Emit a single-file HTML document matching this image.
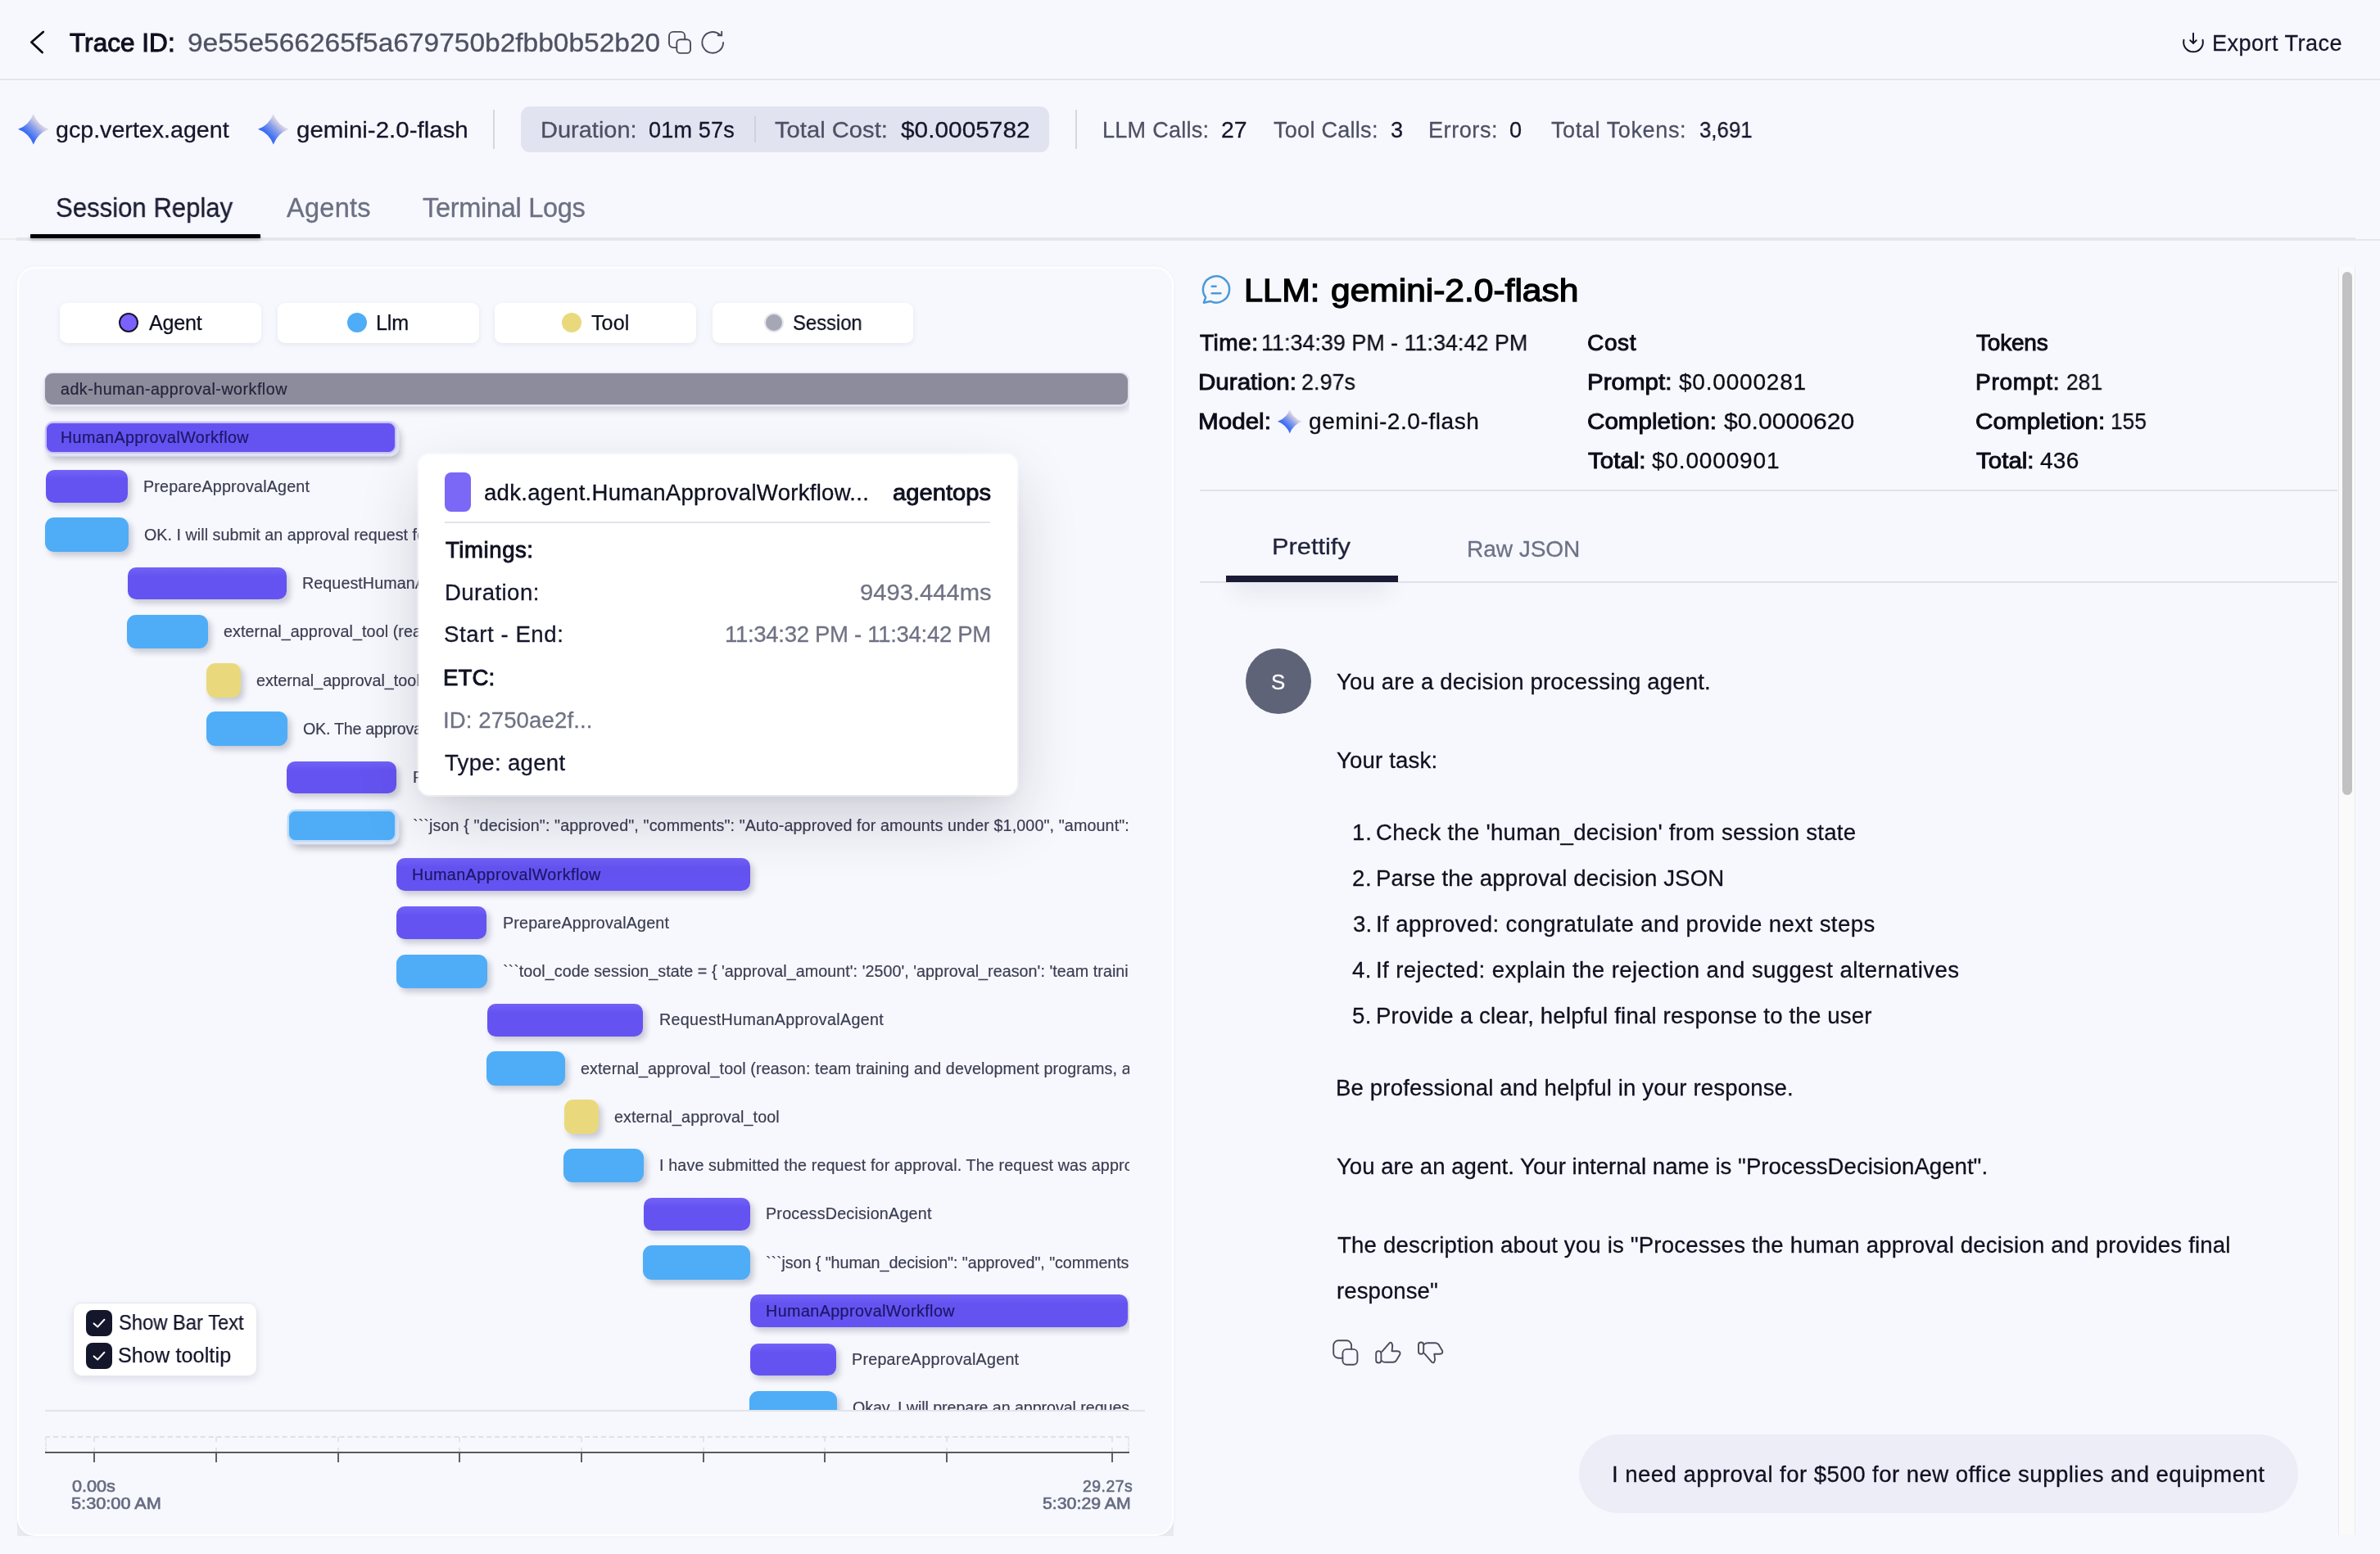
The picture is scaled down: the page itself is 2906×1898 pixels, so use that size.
<!DOCTYPE html>
<html><head><meta charset="utf-8"><title>Trace</title>
<style>
html,body{margin:0;padding:0;}
body{width:2906px;height:1898px;background:#f7f8fd;overflow:hidden;position:relative;font-family:"Liberation Sans",sans-serif;}
#root,.layer{position:absolute;left:0;top:0;}
#root{width:2906px;height:1898px;overflow:hidden;}
.layer div,.layer svg,.layer span{position:absolute;}
.layer div{box-sizing:border-box;}
.t{white-space:pre;line-height:1;transform-origin:0 50%;will-change:transform;}
</style></head><body><div id="root">
<div class="layer" style="width:2906px;height:1898px;">
<svg style="left:30px;top:30px;overflow:visible" width="40" height="40" viewBox="30 30 40 40" fill="none" stroke="#0c0d18" stroke-width="2.8" stroke-linecap="round" stroke-linejoin="round"><polyline points="52.8,39 38.4,51.5 51.6,64"/></svg>
<svg style="left:810px;top:30px;overflow:visible" width="40" height="40" viewBox="810 30 40 40" fill="none" stroke="#4a4c5c" stroke-width="1.9" stroke-linecap="round" stroke-linejoin="round"><path d="M826.3,58.1 H822 A5,5 0 0 1 817,53.1 V43.9 A5,5 0 0 1 822,38.9 H831.2 A5,5 0 0 1 836.2,43.9 V48.2"/><rect x="826.3" y="48.2" width="16.7" height="16.7" rx="4.2"/></svg>
<svg style="left:850px;top:30px;overflow:visible" width="40" height="40" viewBox="850 30 40 40" fill="none" stroke="#4a4c5c" stroke-width="1.9" stroke-linecap="round" stroke-linejoin="round"><path d="M883.05,51.9 A12.85,12.85 0 1 1 878.8,42.35 L881.2,43.3"/><polyline points="881.2,38.6 881.2,43.3 876.7,43.3"/></svg>
<svg style="left:2660px;top:30px;overflow:visible" width="40" height="40" viewBox="2660 30 40 40" fill="none" stroke="#14162b" stroke-width="2.0" stroke-linecap="round" stroke-linejoin="round"><path d="M2666.47,48.7 A11.86,11.86 0 1 0 2689.53,48.7"/><line x1="2678" y1="40.7" x2="2678" y2="52.8"/><polyline points="2674.3,49.3 2678,52.9 2681.7,49.3"/></svg>
<div style="left:0px;top:96px;width:2906px;height:2px;background:#e4e5ec;border-radius:0px;"></div>
<svg style="left:20.2px;top:137.0px;overflow:visible" width="41.6" height="41.6" viewBox="-20.8 -20.8 41.6 41.6"><defs><linearGradient id="g1" x1="0.1" y1="0.9" x2="0.9" y2="0.1"><stop offset="0" stop-color="#2a5ff7"/><stop offset="0.3" stop-color="#3f70f6"/><stop offset="0.55" stop-color="#8fa2e8"/><stop offset="0.75" stop-color="#d6cfe0" stop-opacity="0.9"/><stop offset="1" stop-color="#f3ece8" stop-opacity="0.15"/></linearGradient></defs><path d="M0,-18.8 Q5.0760000000000005,-5.0760000000000005 18.8,0 Q5.0760000000000005,5.0760000000000005 0,18.8 Q-5.0760000000000005,5.0760000000000005 -18.8,0 Q-5.0760000000000005,-5.0760000000000005 0,-18.8Z" fill="url(#g1)"/></svg>
<svg style="left:313.09999999999997px;top:137.0px;overflow:visible" width="41.6" height="41.6" viewBox="-20.8 -20.8 41.6 41.6"><defs><linearGradient id="g2" x1="0.1" y1="0.9" x2="0.9" y2="0.1"><stop offset="0" stop-color="#2a5ff7"/><stop offset="0.3" stop-color="#3f70f6"/><stop offset="0.55" stop-color="#8fa2e8"/><stop offset="0.75" stop-color="#d6cfe0" stop-opacity="0.9"/><stop offset="1" stop-color="#f3ece8" stop-opacity="0.15"/></linearGradient></defs><path d="M0,-18.8 Q5.0760000000000005,-5.0760000000000005 18.8,0 Q5.0760000000000005,5.0760000000000005 0,18.8 Q-5.0760000000000005,5.0760000000000005 -18.8,0 Q-5.0760000000000005,-5.0760000000000005 0,-18.8Z" fill="url(#g2)"/></svg>
<div style="left:602px;top:134px;width:2px;height:48px;background:#d6d7df;border-radius:0px;"></div>
<div style="left:636px;top:129.7px;width:645px;height:56px;background:#e1e3f0;border-radius:11px;"></div>
<div style="left:921px;top:142px;width:2px;height:32px;background:#cfd1dd;border-radius:0px;"></div>
<div style="left:1313px;top:134px;width:2px;height:48px;background:#d6d7df;border-radius:0px;"></div>
<div style="left:0px;top:290.5px;width:22px;height:2px;background:#eceded;border-radius:0px;"></div>
<div style="left:20px;top:290px;width:2856px;height:4px;background:#e5e6eb;border-radius:0px;"></div>
<div style="left:2876px;top:292px;width:30px;height:2px;background:#e5e6eb;border-radius:0px;"></div>
<div style="left:37px;top:286px;width:281px;height:4.5px;background:#000;border-radius:1px;box-shadow:0 2px 4px rgba(0,0,0,0.25);"></div>
<div style="left:21px;top:1852px;width:24px;height:24px;background:#e9eaf0;border-radius:0px;"></div>
<div style="left:1409px;top:1852px;width:24px;height:24px;background:#e9eaf0;border-radius:0px;"></div>
<div style="left:20.8px;top:326px;width:1412.4px;height:1550px;border:2.2px solid #fff;border-radius:22px;background:#f7f8fd;box-shadow:0 0 5px rgba(120,120,160,0.05);"></div>
<div style="left:73px;top:370px;width:245.8px;height:48.5px;background:#fff;border-radius:9px;box-shadow:0 2px 6px rgba(90,90,130,0.10);"></div>
<div style="left:145px;top:382px;width:24px;height:24px;border-radius:50%;background:#7b61ff;border:2.5px solid #14162b;"></div>
<div style="left:339px;top:370px;width:245.8px;height:48.5px;background:#fff;border-radius:9px;box-shadow:0 2px 6px rgba(90,90,130,0.10);"></div>
<div style="left:424px;top:382px;width:24px;height:24px;border-radius:50%;background:#4fadf7;border:none;"></div>
<div style="left:604.3px;top:370px;width:245.8px;height:48.5px;background:#fff;border-radius:9px;box-shadow:0 2px 6px rgba(90,90,130,0.10);"></div>
<div style="left:686px;top:382px;width:24px;height:24px;border-radius:50%;background:#ead97c;border:none;"></div>
<div style="left:869.7px;top:370px;width:245.8px;height:48.5px;background:#fff;border-radius:9px;box-shadow:0 2px 6px rgba(90,90,130,0.10);"></div>
<div style="left:932.8px;top:382px;width:24px;height:24px;border-radius:50%;background:#a6a7b4;border:2px solid #e4e4ec;"></div>
<div style="left:55px;top:1722px;width:1343px;height:2px;background:#e2e3ea;border-radius:0px;"></div>
<div style="left:55px;top:1753.5px;width:1323.5px;height:0;border-top:2px dashed #e0e0e6;"></div>
<div style="left:55px;top:1754px;width:0;height:20px;border-left:2px dashed #e6e6ec;"></div>
<div style="left:1376.5px;top:1754px;width:0;height:20px;border-left:2px dashed #e6e6ec;"></div>
<div style="left:114px;top:1755px;width:0;height:19px;border-left:2px dashed #e2e2e8;"></div>
<div style="left:114px;top:1774px;width:2px;height:11.5px;background:#5f5f63;border-radius:0px;"></div>
<div style="left:263px;top:1755px;width:0;height:19px;border-left:2px dashed #e2e2e8;"></div>
<div style="left:263px;top:1774px;width:2px;height:11.5px;background:#5f5f63;border-radius:0px;"></div>
<div style="left:412px;top:1755px;width:0;height:19px;border-left:2px dashed #e2e2e8;"></div>
<div style="left:412px;top:1774px;width:2px;height:11.5px;background:#5f5f63;border-radius:0px;"></div>
<div style="left:560px;top:1755px;width:0;height:19px;border-left:2px dashed #e2e2e8;"></div>
<div style="left:560px;top:1774px;width:2px;height:11.5px;background:#5f5f63;border-radius:0px;"></div>
<div style="left:709px;top:1755px;width:0;height:19px;border-left:2px dashed #e2e2e8;"></div>
<div style="left:709px;top:1774px;width:2px;height:11.5px;background:#5f5f63;border-radius:0px;"></div>
<div style="left:858px;top:1755px;width:0;height:19px;border-left:2px dashed #e2e2e8;"></div>
<div style="left:858px;top:1774px;width:2px;height:11.5px;background:#5f5f63;border-radius:0px;"></div>
<div style="left:1006px;top:1755px;width:0;height:19px;border-left:2px dashed #e2e2e8;"></div>
<div style="left:1006px;top:1774px;width:2px;height:11.5px;background:#5f5f63;border-radius:0px;"></div>
<div style="left:1155px;top:1755px;width:0;height:19px;border-left:2px dashed #e2e2e8;"></div>
<div style="left:1155px;top:1774px;width:2px;height:11.5px;background:#5f5f63;border-radius:0px;"></div>
<div style="left:1357px;top:1755px;width:0;height:19px;border-left:2px dashed #e2e2e8;"></div>
<div style="left:1357px;top:1774px;width:2px;height:11.5px;background:#5f5f63;border-radius:0px;"></div>
<div style="left:55px;top:1773px;width:1323.5px;height:2px;background:#5a5a5e;border-radius:0px;"></div>
<svg style="left:1460px;top:330px;overflow:visible" width="50" height="50" viewBox="1460 330 50 50" fill="none" stroke="#4a9ad9" stroke-width="2.5" stroke-linecap="round" stroke-linejoin="round"><path d="M1472.14,363.19 A16.1,16.1 0 1 1 1477.94,367.97 L1469.9,369.7 Z"/><line x1="1479.7" y1="349.7" x2="1484.6" y2="349.7"/><line x1="1479.7" y1="358.3" x2="1490.4" y2="358.3"/></svg>
<svg style="left:1557.7px;top:497.7px;overflow:visible" width="33.6" height="33.6" viewBox="-16.8 -16.8 33.6 33.6"><defs><linearGradient id="g3" x1="0.1" y1="0.9" x2="0.9" y2="0.1"><stop offset="0" stop-color="#2a5ff7"/><stop offset="0.3" stop-color="#3f70f6"/><stop offset="0.55" stop-color="#8fa2e8"/><stop offset="0.75" stop-color="#d6cfe0" stop-opacity="0.9"/><stop offset="1" stop-color="#f3ece8" stop-opacity="0.15"/></linearGradient></defs><path d="M0,-14.8 Q3.9960000000000004,-3.9960000000000004 14.8,0 Q3.9960000000000004,3.9960000000000004 0,14.8 Q-3.9960000000000004,3.9960000000000004 -14.8,0 Q-3.9960000000000004,-3.9960000000000004 0,-14.8Z" fill="url(#g3)"/></svg>
<div style="left:1465px;top:597.8px;width:1389px;height:2px;background:#e2e3ea;border-radius:0px;"></div>
<div style="left:1420px;top:711.6px;width:370px;height:110px;overflow:hidden;"><div style="left:87px;top:-40px;width:190px;height:30px;box-shadow:0 22px 28px rgba(60,60,100,0.09);border-radius:10px;"></div></div>
<div style="left:1465px;top:709.6px;width:1389px;height:2px;background:#e0e1e9;border-radius:0px;"></div>
<div style="left:1497px;top:703px;width:210px;height:8px;background:#1a1c36;border-radius:0px;"></div>
<div style="left:1521px;top:791.6px;width:80px;height:80px;background:#5f6378;border-radius:40px;"></div>
<svg style="left:1620px;top:1630px;overflow:visible" width="50" height="50" viewBox="1620 1630 50 50" fill="none" stroke="#4a4c5c" stroke-width="1.9" stroke-linecap="round" stroke-linejoin="round"><path d="M1639.4,1658.7 H1634.2 A6,6 0 0 1 1628.2,1652.7 V1643.3 A6,6 0 0 1 1634.2,1637.3 H1644.1 A6,6 0 0 1 1650.1,1643.3 V1647.9"/><rect x="1639.4" y="1647.9" width="18" height="18.8" rx="5"/></svg>
<svg style="left:1675px;top:1630px;overflow:visible" width="50" height="50" viewBox="1675 1630 50 50" fill="none" stroke="#4a4c5c" stroke-width="1.9" stroke-linecap="round" stroke-linejoin="round"><rect x="1680.2" y="1650.1" width="6.2" height="14.4" rx="3.1"/><path d="M1687.4,1650.8 L1696.5,1640.4 Q1698,1638.8 1699.2,1640.4 Q1701,1643 1700,1646.6 L1699.5,1650.2 H1706.2 Q1710.4,1650.6 1709.4,1654 L1705,1661.6 Q1703.4,1663.8 1700.8,1663.8 H1691.4 Q1688.8,1663.8 1687.6,1662.2"/></svg>
<svg style="left:1725px;top:1630px;overflow:visible" width="50" height="50" viewBox="1725 1630 50 50" fill="none" stroke="#4a4c5c" stroke-width="1.9" stroke-linecap="round" stroke-linejoin="round"><rect x="1732" y="1639.5" width="6.2" height="14.4" rx="3.1"/><path d="M1739.2,1653.2 L1748.3,1663.6 Q1749.8,1665.2 1751,1663.6 Q1752.8,1661 1751.8,1657.4 L1751.3,1653.8 H1758 Q1762.2,1653.4 1761.2,1650 L1756.8,1642.4 Q1755.2,1640.2 1752.6,1640.2 H1743.2 Q1740.6,1640.2 1739.4,1641.8"/></svg>
<div style="left:1928.4px;top:1751.8px;width:877.8px;height:96.2px;background:#ecedf6;border-radius:48.1px;"></div>
<div style="left:2854.5px;top:326px;width:21.5px;height:1549px;background:#fafafb;border-left:1.5px solid #e9e9ec;border-right:1.5px solid #ececef;"></div>
<div style="left:2860px;top:332px;width:12px;height:639px;background:#c1c1c3;border-radius:6px;"></div>
<span class="t" id="t0" style="left:84.94px;top:37.00px;font-size:31.52px;color:#0e1020;-webkit-text-stroke:1.04px;letter-spacing:0.029px;">Trace ID:</span>
<span class="t" id="t1" style="left:228.58px;top:37.00px;font-size:31.52px;color:#4f5263;-webkit-text-stroke:0.32px;transform:scaleX(1.0623);">9e55e566265f5a679750b2fbb0b52b20</span>
<span class="t" id="t2" style="left:2701.44px;top:39.00px;font-size:27.09px;color:#14162b;-webkit-text-stroke:0.27px;letter-spacing:0.451px;">Export Trace</span>
<span class="t" id="t3" style="left:68.32px;top:145.00px;font-size:27.09px;color:#14162b;-webkit-text-stroke:0.27px;transform:scaleX(1.0572);">gcp.vertex.agent</span>
<span class="t" id="t4" style="left:361.65px;top:145.00px;font-size:27.09px;color:#14162b;-webkit-text-stroke:0.27px;transform:scaleX(1.0889);">gemini-2.0-flash</span>
<span class="t" id="t5" style="left:659.56px;top:145.00px;font-size:27.09px;color:#4d5064;-webkit-text-stroke:0.27px;transform:scaleX(1.0706);">Duration:</span>
<span class="t" id="t6" style="left:791.85px;top:145.00px;font-size:27.09px;color:#14162b;-webkit-text-stroke:0.27px;letter-spacing:0.147px;">01m 57s</span>
<span class="t" id="t7" style="left:946.27px;top:145.00px;font-size:27.09px;color:#4d5064;-webkit-text-stroke:0.27px;transform:scaleX(1.0779);">Total Cost:</span>
<span class="t" id="t8" style="left:1099.87px;top:145.00px;font-size:27.09px;color:#14162b;-webkit-text-stroke:0.27px;transform:scaleX(1.1015);">$0.0005782</span>
<span class="t" id="t9" style="left:1345.84px;top:145.00px;font-size:27.09px;color:#4d5064;-webkit-text-stroke:0.27px;letter-spacing:0.238px;">LLM Calls:</span>
<span class="t" id="t10" style="left:1491.05px;top:145.00px;font-size:27.09px;color:#14162b;-webkit-text-stroke:0.27px;transform:scaleX(1.0483);">27</span>
<span class="t" id="t11" style="left:1554.64px;top:145.00px;font-size:27.09px;color:#4d5064;-webkit-text-stroke:0.27px;letter-spacing:0.251px;">Tool Calls:</span>
<span class="t" id="t12" style="left:1698.20px;top:145.00px;font-size:27.09px;color:#14162b;-webkit-text-stroke:0.27px;">3</span>
<span class="t" id="t13" style="left:1743.74px;top:145.00px;font-size:27.09px;color:#4d5064;-webkit-text-stroke:0.27px;letter-spacing:0.544px;">Errors:</span>
<span class="t" id="t14" style="left:1843.25px;top:145.00px;font-size:27.09px;color:#14162b;-webkit-text-stroke:0.27px;">0</span>
<span class="t" id="t15" style="left:1893.94px;top:145.00px;font-size:27.09px;color:#4d5064;-webkit-text-stroke:0.27px;letter-spacing:0.583px;">Total Tokens:</span>
<span class="t" id="t16" style="left:2074.54px;top:145.00px;font-size:27.09px;color:#14162b;-webkit-text-stroke:0.27px;transform:scaleX(0.9528);">3,691</span>
<span class="t" id="t17" style="left:68.42px;top:238.00px;font-size:32.51px;color:#1a1c33;-webkit-text-stroke:0.33px;transform:scaleX(0.9572);">Session Replay</span>
<span class="t" id="t18" style="left:350.10px;top:238.00px;font-size:32.51px;color:#6c7083;-webkit-text-stroke:0.33px;letter-spacing:0.267px;">Agents</span>
<span class="t" id="t19" style="left:516.17px;top:238.00px;font-size:32.51px;color:#6c7083;-webkit-text-stroke:0.33px;letter-spacing:-0.293px;">Terminal Logs</span>
<span class="t" id="t20" style="left:181.68px;top:382.00px;font-size:25.12px;color:#0e1020;-webkit-text-stroke:0.25px;letter-spacing:-0.217px;">Agent</span>
<span class="t" id="t21" style="left:458.81px;top:382.00px;font-size:25.12px;color:#0e1020;-webkit-text-stroke:0.25px;letter-spacing:-0.161px;">Llm</span>
<span class="t" id="t22" style="left:722.16px;top:382.00px;font-size:25.12px;color:#0e1020;-webkit-text-stroke:0.25px;letter-spacing:0.065px;">Tool</span>
<span class="t" id="t23" style="left:968.13px;top:382.00px;font-size:25.12px;color:#0e1020;-webkit-text-stroke:0.25px;transform:scaleX(0.9488);">Session</span>
<span class="t" id="t48" style="left:88.35px;top:1806.00px;font-size:19.31px;color:#656c81;-webkit-text-stroke:0.64px;transform:scaleX(1.1210);">0.00s</span>
<span class="t" id="t49" style="left:87.27px;top:1827.00px;font-size:19.31px;color:#656c81;-webkit-text-stroke:0.64px;transform:scaleX(1.1265);">5:30:00 AM</span>
<span class="t" id="t50" style="left:1321.96px;top:1806.00px;font-size:19.31px;color:#656c81;-webkit-text-stroke:0.64px;letter-spacing:0.530px;">29.27s</span>
<span class="t" id="t51" style="left:1272.70px;top:1827.00px;font-size:19.31px;color:#656c81;-webkit-text-stroke:0.64px;transform:scaleX(1.1039);">5:30:29 AM</span>
<span class="t" id="t62" style="left:1519.01px;top:336.00px;font-size:38.41px;color:#000;-webkit-text-stroke:1.27px;transform:scaleX(1.0798);">LLM:</span>
<span class="t" id="t63" style="left:1625.24px;top:336.00px;font-size:38.41px;color:#000;-webkit-text-stroke:1.27px;transform:scaleX(1.1067);">gemini-2.0-flash</span>
<span class="t" id="t64" style="left:1464.76px;top:405.00px;font-size:28.07px;color:#0b0c18;-webkit-text-stroke:0.93px;letter-spacing:0.453px;">Time:</span>
<span class="t" id="t65" style="left:1540.15px;top:405.00px;font-size:28.07px;color:#0b0c18;-webkit-text-stroke:0.28px;transform:scaleX(0.9593);">11:34:39 PM - 11:34:42 PM</span>
<span class="t" id="t66" style="left:1463.30px;top:453.00px;font-size:28.07px;color:#0b0c18;-webkit-text-stroke:0.93px;transform:scaleX(1.0540);">Duration:</span>
<span class="t" id="t67" style="left:1588.96px;top:453.00px;font-size:28.07px;color:#0b0c18;-webkit-text-stroke:0.28px;transform:scaleX(0.9621);">2.97s</span>
<span class="t" id="t68" style="left:1463.30px;top:501.00px;font-size:28.07px;color:#0b0c18;-webkit-text-stroke:0.93px;transform:scaleX(1.0556);">Model:</span>
<span class="t" id="t69" style="left:1598.06px;top:501.00px;font-size:28.07px;color:#0b0c18;-webkit-text-stroke:0.28px;letter-spacing:0.547px;">gemini-2.0-flash</span>
<span class="t" id="t70" style="left:1938.01px;top:405.00px;font-size:28.07px;color:#0b0c18;-webkit-text-stroke:0.93px;letter-spacing:0.618px;">Cost</span>
<span class="t" id="t71" style="left:1938.29px;top:453.00px;font-size:28.07px;color:#0b0c18;-webkit-text-stroke:0.93px;transform:scaleX(1.0518);">Prompt:</span>
<span class="t" id="t72" style="left:2050.30px;top:453.00px;font-size:28.07px;color:#0b0c18;-webkit-text-stroke:0.28px;letter-spacing:0.762px;">$0.0000281</span>
<span class="t" id="t73" style="left:1938.10px;top:501.00px;font-size:28.07px;color:#0b0c18;-webkit-text-stroke:0.93px;transform:scaleX(1.0555);">Completion:</span>
<span class="t" id="t74" style="left:2104.78px;top:501.00px;font-size:28.07px;color:#0b0c18;-webkit-text-stroke:0.28px;transform:scaleX(1.0746);">$0.0000620</span>
<span class="t" id="t75" style="left:1938.70px;top:549.00px;font-size:28.07px;color:#0b0c18;-webkit-text-stroke:0.93px;transform:scaleX(1.0520);">Total:</span>
<span class="t" id="t76" style="left:2017.40px;top:549.00px;font-size:28.07px;color:#0b0c18;-webkit-text-stroke:0.28px;letter-spacing:0.809px;">$0.0000901</span>
<span class="t" id="t77" style="left:2412.66px;top:405.00px;font-size:28.07px;color:#0b0c18;-webkit-text-stroke:0.93px;letter-spacing:-0.228px;">Tokens</span>
<span class="t" id="t78" style="left:2411.79px;top:453.00px;font-size:28.07px;color:#0b0c18;-webkit-text-stroke:0.93px;letter-spacing:0.725px;">Prompt:</span>
<span class="t" id="t79" style="left:2523.01px;top:453.00px;font-size:28.07px;color:#0b0c18;-webkit-text-stroke:0.28px;transform:scaleX(0.9421);">281</span>
<span class="t" id="t80" style="left:2412.01px;top:501.00px;font-size:28.07px;color:#0b0c18;-webkit-text-stroke:0.93px;transform:scaleX(1.0571);">Completion:</span>
<span class="t" id="t81" style="left:2577.16px;top:501.00px;font-size:28.07px;color:#0b0c18;-webkit-text-stroke:0.28px;transform:scaleX(0.9373);">155</span>
<span class="t" id="t82" style="left:2412.60px;top:549.00px;font-size:28.07px;color:#0b0c18;-webkit-text-stroke:0.93px;transform:scaleX(1.0520);">Total:</span>
<span class="t" id="t83" style="left:2491.36px;top:549.00px;font-size:28.07px;color:#0b0c18;-webkit-text-stroke:0.28px;letter-spacing:0.243px;">436</span>
<span class="t" id="t84" style="left:1552.84px;top:654.00px;font-size:28.07px;color:#20233d;-webkit-text-stroke:0.28px;transform:scaleX(1.0972);">Prettify</span>
<span class="t" id="t85" style="left:1790.55px;top:657.00px;font-size:28.07px;color:#6b7186;-webkit-text-stroke:0.28px;letter-spacing:-0.058px;">Raw JSON</span>
<span class="t" id="t86" style="left:1552.00px;top:821.00px;font-size:25.91px;color:#fff;-webkit-text-stroke:0.26px;">S</span>
<span class="t" id="t87" style="left:1632.35px;top:819.00px;font-size:27.58px;color:#0f1020;-webkit-text-stroke:0.28px;letter-spacing:0.155px;">You are a decision processing agent.</span>
<span class="t" id="t88" style="left:1632.45px;top:915.00px;font-size:27.58px;color:#0f1020;-webkit-text-stroke:0.28px;letter-spacing:0.160px;">Your task:</span>
<span class="t" id="t89" style="left:1650.63px;top:1003.00px;font-size:27.58px;color:#0f1020;-webkit-text-stroke:0.28px;letter-spacing:0.812px;">1.</span>
<span class="t" id="t90" style="left:1679.88px;top:1003.00px;font-size:27.58px;color:#0f1020;-webkit-text-stroke:0.28px;letter-spacing:0.259px;">Check the 'human_decision' from session state</span>
<span class="t" id="t91" style="left:1650.90px;top:1059.00px;font-size:27.58px;color:#0f1020;-webkit-text-stroke:0.28px;letter-spacing:0.678px;">2.</span>
<span class="t" id="t92" style="left:1679.54px;top:1059.00px;font-size:27.58px;color:#0f1020;-webkit-text-stroke:0.28px;letter-spacing:0.115px;">Parse the approval decision JSON</span>
<span class="t" id="t93" style="left:1651.74px;top:1115.00px;font-size:27.58px;color:#0f1020;-webkit-text-stroke:0.28px;letter-spacing:0.157px;">3.</span>
<span class="t" id="t94" style="left:1679.74px;top:1115.00px;font-size:27.58px;color:#0f1020;-webkit-text-stroke:0.28px;letter-spacing:0.403px;">If approved: congratulate and provide next steps</span>
<span class="t" id="t95" style="left:1650.56px;top:1171.00px;font-size:27.58px;color:#0f1020;-webkit-text-stroke:0.28px;letter-spacing:0.475px;">4.</span>
<span class="t" id="t96" style="left:1679.74px;top:1171.00px;font-size:27.58px;color:#0f1020;-webkit-text-stroke:0.28px;letter-spacing:0.407px;">If rejected: explain the rejection and suggest alternatives</span>
<span class="t" id="t97" style="left:1651.43px;top:1227.00px;font-size:27.58px;color:#0f1020;-webkit-text-stroke:0.28px;letter-spacing:0.412px;">5.</span>
<span class="t" id="t98" style="left:1679.54px;top:1227.00px;font-size:27.58px;color:#0f1020;-webkit-text-stroke:0.28px;letter-spacing:0.182px;">Provide a clear, helpful final response to the user</span>
<span class="t" id="t99" style="left:1631.44px;top:1315.00px;font-size:27.58px;color:#0f1020;-webkit-text-stroke:0.28px;letter-spacing:0.156px;">Be professional and helpful in your response.</span>
<span class="t" id="t100" style="left:1632.45px;top:1411.00px;font-size:27.58px;color:#0f1020;-webkit-text-stroke:0.28px;letter-spacing:0.012px;">You are an agent. Your internal name is "ProcessDecisionAgent".</span>
<span class="t" id="t101" style="left:1632.71px;top:1507.00px;font-size:27.58px;color:#0f1020;-webkit-text-stroke:0.28px;letter-spacing:0.179px;">The description about you is "Processes the human approval decision and provides final</span>
<span class="t" id="t102" style="left:1631.92px;top:1563.00px;font-size:27.58px;color:#0f1020;-webkit-text-stroke:0.28px;letter-spacing:0.067px;">response"</span>
<span class="t" id="t103" style="left:1967.74px;top:1787.00px;font-size:27.58px;color:#0f1020;-webkit-text-stroke:0.28px;letter-spacing:0.457px;">I need approval for $500 for new office supplies and equipment</span>
</div>
<div class="layer" style="left:0;top:0;width:1378.5px;height:1722px;overflow:hidden;">
<div style="left:55.3px;top:455.5px;width:1322.2px;height:38.5px;background:#8d8c9c;border-radius:9px;box-shadow:0.6px 0.8px 0 2.2px #e2e2f1,2px 7px 8px rgba(40,40,70,0.22);"></div>
<div style="left:55.4px;top:515.3px;width:428.6px;height:38.80000000000007px;background:#6553f1;border-radius:9.5px;border:2.7px solid #c8c4f8;box-shadow:1.6px 1.2px 0 2.2px #e1e2f1,5px 8px 9px rgba(40,40,70,0.30);"></div>
<div style="left:55.9px;top:574.0px;width:99.69999999999999px;height:39.9px;background:linear-gradient(#7262f6 0%,#6553f1 28%);border-radius:10px;box-shadow:4px 5px 7px rgba(30,30,60,0.21);"></div>
<div style="left:55.2px;top:632.45px;width:101.39999999999999px;height:41.4px;background:#4fadf7;border-radius:11px;box-shadow:4px 5px 7px rgba(30,30,60,0.21);"></div>
<div style="left:155.6px;top:692.5px;width:194.20000000000002px;height:39.9px;background:linear-gradient(#7262f6 0%,#6553f1 28%);border-radius:10px;box-shadow:4px 5px 7px rgba(30,30,60,0.21);"></div>
<div style="left:154.8px;top:750.95px;width:98.79999999999998px;height:41.4px;background:#4fadf7;border-radius:11px;box-shadow:4px 5px 7px rgba(30,30,60,0.21);"></div>
<div style="left:252.0px;top:810.2px;width:41.80000000000001px;height:41.4px;background:#ead97c;border-radius:11px;box-shadow:4px 5px 7px rgba(30,30,60,0.21);"></div>
<div style="left:252.0px;top:869.45px;width:98.60000000000002px;height:41.4px;background:#4fadf7;border-radius:11px;box-shadow:4px 5px 7px rgba(30,30,60,0.21);"></div>
<div style="left:350.0px;top:929.5px;width:134.3px;height:39.9px;background:linear-gradient(#7262f6 0%,#6553f1 28%);border-radius:10px;box-shadow:4px 5px 7px rgba(30,30,60,0.21);"></div>
<div style="left:350.6px;top:989.4px;width:133.39999999999998px;height:39.10000000000002px;background:#4fadf7;border-radius:9.5px;border:2.7px solid #bcdcfa;box-shadow:1.4px 1.2px 0 2.2px #dfe3f2,5px 8px 9px rgba(40,40,70,0.30);"></div>
<div style="left:484.4px;top:1048.0px;width:431.4px;height:39.9px;background:linear-gradient(#7262f6 0%,#6553f1 28%);border-radius:10px;box-shadow:4px 5px 7px rgba(30,30,60,0.21);"></div>
<div style="left:484.4px;top:1107.25px;width:109.89999999999998px;height:39.9px;background:linear-gradient(#7262f6 0%,#6553f1 28%);border-radius:10px;box-shadow:4px 5px 7px rgba(30,30,60,0.21);"></div>
<div style="left:483.6px;top:1165.7px;width:111.5px;height:41.4px;background:#4fadf7;border-radius:11px;box-shadow:4px 5px 7px rgba(30,30,60,0.21);"></div>
<div style="left:594.6px;top:1225.75px;width:190.60000000000002px;height:39.9px;background:linear-gradient(#7262f6 0%,#6553f1 28%);border-radius:10px;box-shadow:4px 5px 7px rgba(30,30,60,0.21);"></div>
<div style="left:593.6px;top:1284.2px;width:96.5px;height:41.4px;background:#4fadf7;border-radius:11px;box-shadow:4px 5px 7px rgba(30,30,60,0.21);"></div>
<div style="left:688.9px;top:1343.45px;width:42.10000000000002px;height:41.4px;background:#ead97c;border-radius:11px;box-shadow:4px 5px 7px rgba(30,30,60,0.21);"></div>
<div style="left:688.4px;top:1402.7px;width:97.60000000000002px;height:41.4px;background:#4fadf7;border-radius:11px;box-shadow:4px 5px 7px rgba(30,30,60,0.21);"></div>
<div style="left:785.7px;top:1462.75px;width:130.0999999999999px;height:39.9px;background:linear-gradient(#7262f6 0%,#6553f1 28%);border-radius:10px;box-shadow:4px 5px 7px rgba(30,30,60,0.21);"></div>
<div style="left:784.8px;top:1521.2px;width:131.4000000000001px;height:41.4px;background:#4fadf7;border-radius:11px;box-shadow:4px 5px 7px rgba(30,30,60,0.21);"></div>
<div style="left:915.8px;top:1581.25px;width:461.70000000000005px;height:39.9px;background:linear-gradient(#7262f6 0%,#6553f1 28%);border-radius:10px;box-shadow:4px 5px 7px rgba(30,30,60,0.21);"></div>
<div style="left:915.8px;top:1640.5px;width:105.0px;height:39.9px;background:linear-gradient(#7262f6 0%,#6553f1 28%);border-radius:10px;box-shadow:4px 5px 7px rgba(30,30,60,0.21);"></div>
<div style="left:915.0px;top:1698.95px;width:106.60000000000002px;height:41.4px;background:#4fadf7;border-radius:11px;box-shadow:4px 5px 7px rgba(30,30,60,0.21);"></div>
<span class="t" id="t24" style="left:74.01px;top:466.00px;font-size:19.7px;color:#23253c;-webkit-text-stroke:0.20px;letter-spacing:0.487px;">adk-human-approval-workflow</span>
<span class="t" id="t25" style="left:74.32px;top:525.00px;font-size:19.7px;color:#1c1766;-webkit-text-stroke:0.20px;letter-spacing:0.387px;">HumanApprovalWorkflow</span>
<span class="t" id="t26" style="left:175.12px;top:585.00px;font-size:19.7px;color:#3a3d52;-webkit-text-stroke:0.20px;letter-spacing:0.197px;">PrepareApprovalAgent</span>
<span class="t" id="t27" style="left:175.57px;top:644.00px;font-size:19.7px;color:#3a3d52;-webkit-text-stroke:0.20px;letter-spacing:0.040px;">OK. I will submit an approval request for $500 for new office</span>
<span class="t" id="t28" style="left:369.22px;top:703.00px;font-size:19.7px;color:#3a3d52;-webkit-text-stroke:0.20px;letter-spacing:0.078px;">RequestHumanApprovalAgent</span>
<span class="t" id="t29" style="left:272.79px;top:762.00px;font-size:19.7px;color:#3a3d52;-webkit-text-stroke:0.20px;letter-spacing:0.089px;">external_approval_tool (reason: new office supplies</span>
<span class="t" id="t30" style="left:312.79px;top:822.00px;font-size:19.7px;color:#3a3d52;-webkit-text-stroke:0.20px;letter-spacing:0.018px;">external_approval_tool</span>
<span class="t" id="t31" style="left:369.97px;top:881.00px;font-size:19.7px;color:#3a3d52;-webkit-text-stroke:0.20px;letter-spacing:-0.256px;">OK. The approval request has been</span>
<span class="t" id="t32" style="left:504.22px;top:940.00px;font-size:19.7px;color:#3a3d52;-webkit-text-stroke:0.20px;letter-spacing:0.228px;">ProcessDecisionAgent</span>
<span class="t" id="t33" style="left:504.01px;top:999.00px;font-size:19.7px;color:#3a3d52;-webkit-text-stroke:0.20px;letter-spacing:0.120px;">```json { "decision": "approved", "comments": "Auto-approved for amounts under $1,000", "amount": 500 }</span>
<span class="t" id="t34" style="left:503.42px;top:1059.00px;font-size:19.7px;color:#1c1766;-webkit-text-stroke:0.20px;letter-spacing:0.427px;">HumanApprovalWorkflow</span>
<span class="t" id="t35" style="left:613.72px;top:1118.00px;font-size:19.7px;color:#3a3d52;-webkit-text-stroke:0.20px;letter-spacing:0.197px;">PrepareApprovalAgent</span>
<span class="t" id="t36" style="left:614.11px;top:1177.00px;font-size:19.7px;color:#3a3d52;-webkit-text-stroke:0.20px;letter-spacing:0.053px;">```tool_code session_state = { 'approval_amount': '2500', 'approval_reason': 'team training and development</span>
<span class="t" id="t37" style="left:804.92px;top:1236.00px;font-size:19.7px;color:#3a3d52;-webkit-text-stroke:0.20px;letter-spacing:0.324px;">RequestHumanApprovalAgent</span>
<span class="t" id="t38" style="left:709.49px;top:1296.00px;font-size:19.7px;color:#3a3d52;-webkit-text-stroke:0.20px;letter-spacing:0.117px;">external_approval_tool (reason: team training and development programs, amount: 2500)</span>
<span class="t" id="t39" style="left:749.79px;top:1355.00px;font-size:19.7px;color:#3a3d52;-webkit-text-stroke:0.20px;letter-spacing:0.119px;">external_approval_tool</span>
<span class="t" id="t40" style="left:804.98px;top:1414.00px;font-size:19.7px;color:#3a3d52;-webkit-text-stroke:0.20px;letter-spacing:0.141px;">I have submitted the request for approval. The request was approved</span>
<span class="t" id="t41" style="left:934.92px;top:1473.00px;font-size:19.7px;color:#3a3d52;-webkit-text-stroke:0.20px;letter-spacing:0.228px;">ProcessDecisionAgent</span>
<span class="t" id="t42" style="left:935.41px;top:1533.00px;font-size:19.7px;color:#3a3d52;-webkit-text-stroke:0.20px;letter-spacing:-0.062px;">```json { "human_decision": "approved", "comments": "ok" }</span>
<span class="t" id="t43" style="left:934.72px;top:1592.00px;font-size:19.7px;color:#1c1766;-webkit-text-stroke:0.20px;letter-spacing:0.437px;">HumanApprovalWorkflow</span>
<span class="t" id="t44" style="left:1039.92px;top:1651.00px;font-size:19.7px;color:#3a3d52;-webkit-text-stroke:0.20px;letter-spacing:0.258px;">PrepareApprovalAgent</span>
<span class="t" id="t45" style="left:1040.57px;top:1710.00px;font-size:19.7px;color:#3a3d52;-webkit-text-stroke:0.20px;letter-spacing:-0.078px;">Okay, I will prepare an approval request for</span>
</div>
<div class="layer" style="width:2906px;height:1898px;">
<div style="left:88.5px;top:1590.5px;width:225.5px;height:90px;background:#fff;border-radius:11px;border:1.5px solid #e6e7ee;box-shadow:0 4px 10px rgba(60,60,100,0.13);"></div>
<div style="left:105px;top:1600px;width:32px;height:32px;background:#14172b;border-radius:8px;"></div>
<svg style="left:105px;top:1600px;overflow:visible" width="32" height="32" viewBox="105 1600 32 32" fill="none" stroke="#fff" stroke-width="2.0" stroke-linecap="round" stroke-linejoin="round"><polyline points="114.6,1616.4 119.2,1620.6 127.4,1611.8"/></svg>
<div style="left:105px;top:1640px;width:32px;height:32px;background:#14172b;border-radius:8px;"></div>
<svg style="left:105px;top:1640px;overflow:visible" width="32" height="32" viewBox="105 1640 32 32" fill="none" stroke="#fff" stroke-width="2.0" stroke-linecap="round" stroke-linejoin="round"><polyline points="114.6,1656.4 119.2,1660.6 127.4,1651.8"/></svg>
<div style="left:510.8px;top:555.3px;width:731.5px;height:415.8px;background:#fff;border-radius:13.5px;box-shadow:0 0 0 2px rgba(255,255,255,0.42),0 30px 80px -6px rgba(25,25,45,0.20),0 6px 18px rgba(25,25,45,0.04);"></div>
<div style="left:543px;top:577px;width:32px;height:48px;background:#7b68f6;border-radius:8px;"></div>
<div style="left:543px;top:637.3px;width:666.4px;height:2px;background:#e3e4eb;border-radius:0px;"></div>
<span class="t" id="t46" style="left:144.53px;top:1603.00px;font-size:25.12px;color:#14162b;-webkit-text-stroke:0.25px;transform:scaleX(0.9451);">Show Bar Text</span>
<span class="t" id="t47" style="left:144.49px;top:1643.00px;font-size:25.12px;color:#14162b;-webkit-text-stroke:0.25px;letter-spacing:0.119px;">Show tooltip</span>
<span class="t" id="t52" style="left:590.86px;top:588.00px;font-size:27.58px;color:#0e1020;-webkit-text-stroke:0.28px;letter-spacing:0.273px;">adk.agent.HumanApprovalWorkflow...</span>
<span class="t" id="t53" style="left:1089.59px;top:588.00px;font-size:27.58px;color:#0e1020;-webkit-text-stroke:0.91px;transform:scaleX(1.0581);">agentops</span>
<span class="t" id="t54" style="left:543.71px;top:658.00px;font-size:27.58px;color:#0e1020;-webkit-text-stroke:0.91px;letter-spacing:0.548px;">Timings:</span>
<span class="t" id="t55" style="left:542.74px;top:710.00px;font-size:27.58px;color:#14162b;-webkit-text-stroke:0.28px;letter-spacing:0.425px;">Duration:</span>
<span class="t" id="t56" style="left:1050.12px;top:710.00px;font-size:27.58px;color:#6f7283;-webkit-text-stroke:0.28px;transform:scaleX(1.0575);">9493.444ms</span>
<span class="t" id="t57" style="left:542.25px;top:761.00px;font-size:27.58px;color:#14162b;-webkit-text-stroke:0.28px;letter-spacing:0.581px;">Start - End:</span>
<span class="t" id="t58" style="left:885.43px;top:761.00px;font-size:27.58px;color:#6f7283;-webkit-text-stroke:0.28px;letter-spacing:-0.329px;">11:34:32 PM - 11:34:42 PM</span>
<span class="t" id="t59" style="left:541.27px;top:814.00px;font-size:27.58px;color:#0e1020;-webkit-text-stroke:0.91px;letter-spacing:0.105px;">ETC:</span>
<span class="t" id="t60" style="left:541.04px;top:866.00px;font-size:27.58px;color:#6f7283;-webkit-text-stroke:0.28px;letter-spacing:0.101px;">ID: 2750ae2f...</span>
<span class="t" id="t61" style="left:542.81px;top:918.00px;font-size:27.58px;color:#14162b;-webkit-text-stroke:0.28px;letter-spacing:0.299px;">Type: agent</span>
</div>
</div></body></html>
